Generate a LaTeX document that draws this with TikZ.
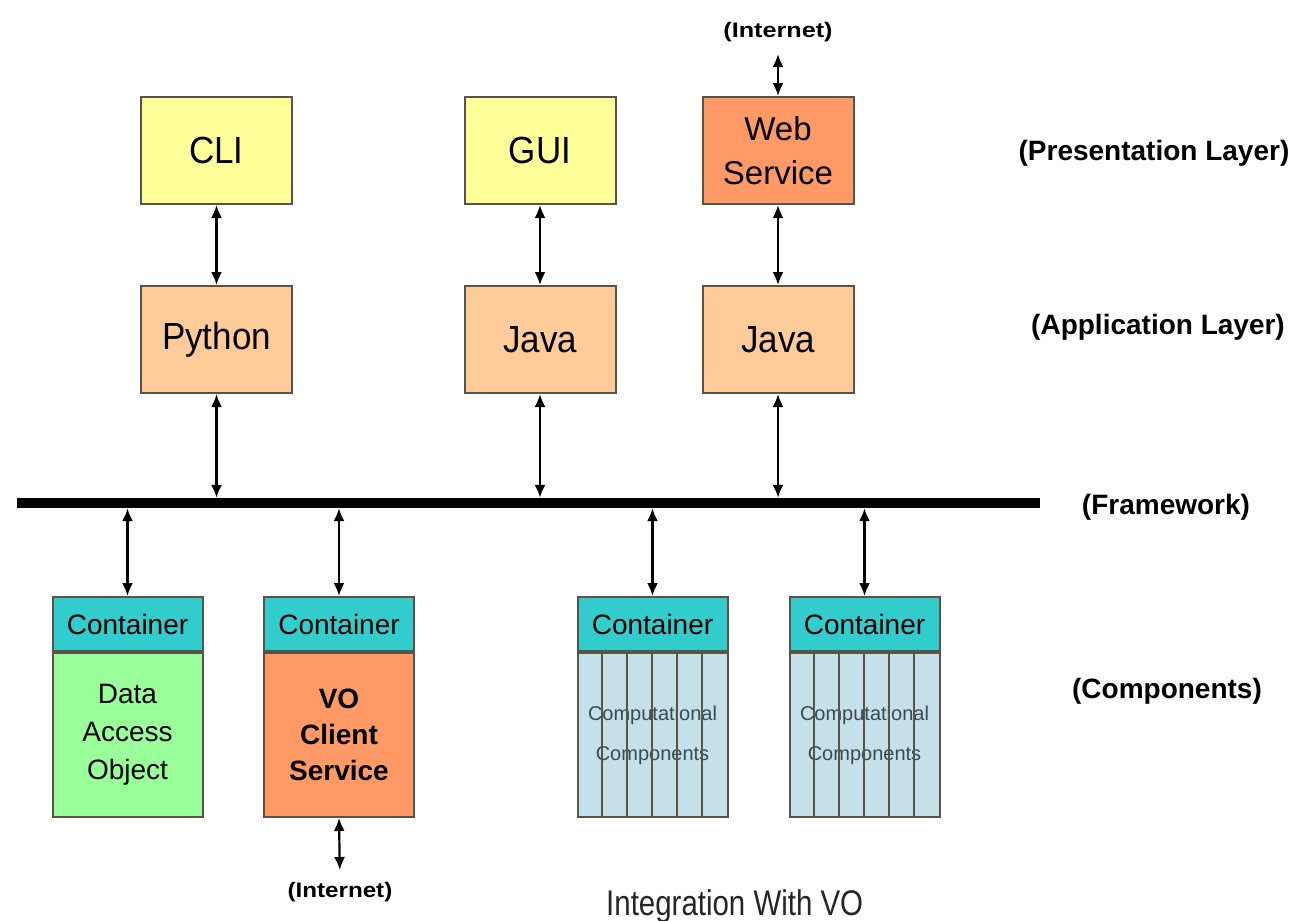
\documentclass[tikz,border=0pt]{standalone}
\usepackage{fontspec}
\setmainfont{Liberation Sans}
\usetikzlibrary{arrows.meta,calc}
\definecolor{yel}{HTML}{FFFF99}
\definecolor{orng}{HTML}{FF9966}
\definecolor{peach}{HTML}{FFCC99}
\definecolor{teal2}{HTML}{33CCCC}
\definecolor{grn}{HTML}{99FF99}
\definecolor{compblue}{HTML}{C5E0E8}
\definecolor{bordercol}{HTML}{5A5448}
\definecolor{comptext}{HTML}{3A4A50}
\tikzset{
  box/.style={draw=bordercol, line width=2pt, minimum width=151pt, minimum height=107pt,
    inner sep=0pt, align=center, font=\fontsize{35}{42}\selectfont},
  hdr/.style={draw=bordercol, line width=2pt, fill=teal2, minimum width=150pt, minimum height=54pt,
    inner sep=0pt, font=\fontsize{28}{34}\selectfont},
  bodybox/.style={draw=bordercol, line width=2pt, minimum width=150pt, minimum height=164pt,
    inner sep=0pt, align=center, anchor=north},
  arr/.style={{Latex[length=13pt,width=11pt]}-{Latex[length=13pt,width=11pt]}, line width=2.2pt},
  lbl/.style={font=\fontsize{28}{34}\selectfont\bfseries},
  inet/.style={font=\fontsize{21}{25}\selectfont\bfseries, inner sep=0pt}
}
\begin{document}
\begin{tikzpicture}[x=1pt,y=-1pt]
\useasboundingbox (0,0) rectangle (1299,921);
% presentation layer
\node[box, fill=yel] (cli) at (216.5,150.5) {\scalebox{1}[1.08]{CLI}};
\node[box, fill=yel] (gui) at (540,150.5) {\scalebox{1}[1.08]{GUI}};
\node[box, fill=orng, font=\fontsize{33}{44}\selectfont] (web) at (778,150.5) {Web\\Service};
% application layer
\node[box, fill=peach] (py) at (216.5,339.5) {\scalebox{1}[1.08]{Python}};
\node[box, fill=peach] (j1) at (540,339.5) {\scalebox{1}[1.08]{Java}};
\node[box, fill=peach] (j2) at (778,339.5) {\scalebox{1}[1.08]{Java}};
% framework
\node[fill=black, minimum width=1023pt, minimum height=10pt, inner sep=0pt] (fw) at (528.5,503) {};
% components
\node[hdr] (h1) at (127.5,624) {Container};
\node[bodybox, fill=grn, font=\fontsize{28}{38}\selectfont] (b1) at (h1.south) {Data\\Access\\Object};
\node[hdr] (h2) at (339,624) {Container};
\node[bodybox, fill=orng, font=\fontsize{28}{36}\selectfont\bfseries] (b2) at (h2.south) {VO\\Client\\Service};
\node[hdr] (h3) at (652.5,624) {Container};
\node[bodybox, fill=compblue, font=\fontsize{20}{40}\selectfont, text=comptext] (b3) at (h3.south) {Computational\\Components};
\node[hdr] (h4) at (864.5,624) {Container};
\node[bodybox, fill=compblue, font=\fontsize{20}{40}\selectfont, text=comptext] (b4) at (h4.south) {Computational\\Components};
\foreach \b in {b3,b4}{
  \foreach \i in {1,...,5}{
    \draw[draw=bordercol, line width=2pt] ($(\b.north west)+(25*\i,0)$) -- ($(\b.south west)+(25*\i,0)$);
  }
}
% internet
\node[inet] (inet1) at (778,32) {\scalebox{1.2}[1]{(Internet)}};
\node[inet] (inet2) at (340,892) {\scalebox{1.15}[1]{(Internet)}};
% arrows
\draw[arr, shorten <=12pt] (inet1.south) -- (web.north);
\draw[arr] (cli) -- (py);
\draw[arr] (gui) -- (j1);
\draw[arr] (web) -- (j2);
\draw[arr] (py.south) -- (py.south |- fw.north);
\draw[arr] (j1.south) -- (j1.south |- fw.north);
\draw[arr] (j2.south) -- (j2.south |- fw.north);
\draw[arr] (fw.south -| h1.north) -- (h1.north);
\draw[arr] (fw.south -| h2.north) -- (h2.north);
\draw[arr] (fw.south -| h3.north) -- (h3.north);
\draw[arr] (fw.south -| h4.north) -- (h4.north);
\draw[arr, shorten >=12pt] (b2.south) -- (inet2.north);
% layer labels
\node[lbl] (lp) at (1154,153) {(Presentation Layer)};
\node[lbl] (la) at (1158,327) {(Application Layer)};
\node[lbl] (lf) at (1166,507) {(Framework)};
\node[lbl] (lc) at (1167,691) {(Components)};
% title
\node[anchor=base west, inner sep=0pt, text=black!85, font=\fontsize{31}{36}\selectfont] (title) at (606,915) {\scalebox{0.95}[1.15]{Integration With VO}};
\end{tikzpicture}
\end{document}
